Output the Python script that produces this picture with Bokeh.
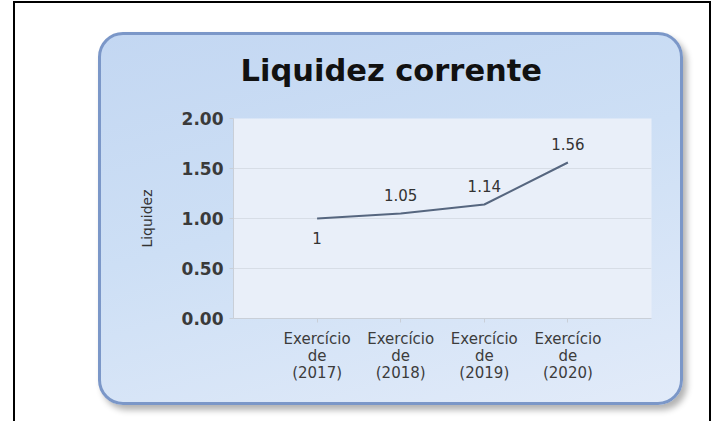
from bokeh.plotting import figure
from bokeh.models import (FactorRange, Range1d, FixedTicker, NumeralTickFormatter,
                          ColumnDataSource, InlineStyleSheet)
from bokeh.core.properties import value
from bokeh.embed import file_html
from bokeh.resources import INLINE

# ---- data ----
years = ["2017", "2018", "2019", "2020"]
x_tick_labels = ["Exercício\nde\n(%s)" % y for y in years]
liquidez = [1.00, 1.05, 1.14, 1.56]
value_labels = ["1", "1.05", "1.14", "1.56"]
y_ticks = [0.0, 0.5, 1.0, 1.5, 2.0]
chart_title = "Liquidez corrente"
y_title = "Liquidez"

# ---- layout (canvas pixels) ----
W, H = 713, 421
FL, FR, FT, FB = 233, 651, 118, 318          # plot frame
PL, PT, PR, PB, RAD = 98, 32, 683, 405, 25   # rounded panel
FONT = "DejaVu Sans"

p = figure(width=W, height=H,
           x_range=FactorRange(factors=x_tick_labels, range_padding=0.5,
                               range_padding_units="absolute"),
           y_range=Range1d(0, 2),
           output_backend="svg", toolbar_location=None,
           min_border_left=FL, min_border_right=W - FR,
           min_border_top=FT, min_border_bottom=H - FB)
p.border_fill_color = None
p.background_fill_color = "#e9eff9"
p.outline_line_color = None

css = """
:host { position: relative; }
:host::before {
  content: ""; position: absolute; z-index: -1;
  left: %dpx; top: %dpx; width: %dpx; height: %dpx;
  box-sizing: border-box;
  border: 3px solid #7b97c8; border-radius: %dpx;
  background: linear-gradient(165deg, #c3d7f2 0%%, #cddff5 45%%, #e2ebf9 100%%);
  box-shadow: 4px 5px 6px rgba(0,0,0,0.30);
}
:host::after {
  content: ""; position: absolute; pointer-events: none;
  left: 13px; top: 1px; width: 698px; height: %dpx;
  box-sizing: border-box;
  border-left: 2px solid #000; border-right: 2px solid #000; border-top: 2px solid #000;
}
""" % (PL, PT, PR - PL, PB - PT, RAD, H)
p.stylesheets = [InlineStyleSheet(css=css)]

# title
p.title.text = chart_title
p.title.align = "left"
p.title.offset = 7
p.title.standoff = 62
p.title.text_font = FONT
p.title.text_font_size = "30.5px"
p.title.text_font_style = "bold"
p.title.text_color = "#111111"

# data
src = ColumnDataSource(dict(
    cat=x_tick_labels, liq=liquidez, lbl=value_labels,
    off=[19 if i == 0 else -19 for i in range(len(years))]))
p.line(x="cat", y="liq", source=src, line_color="#56667f", line_width=2)
p.text(x="cat", y="liq", text="lbl", y_offset="off", source=src,
       text_align="center", text_baseline="middle", text_font=value(FONT),
       text_font_size="15px", text_color="#333333")

# axes
ax_col = "#c9cfd8"
p.yaxis.ticker = FixedTicker(ticks=y_ticks)
p.yaxis.formatter = NumeralTickFormatter(format="0.00")
p.yaxis.major_label_text_font = FONT
p.yaxis.major_label_text_font_size = "17px"
p.yaxis.major_label_text_font_style = "bold"
p.yaxis.major_label_text_color = "#3a3a3a"
p.yaxis.axis_line_color = ax_col
p.yaxis.major_tick_line_color = ax_col
p.yaxis.major_tick_out = 4
p.yaxis.major_tick_in = 0
p.yaxis.minor_tick_line_color = None
p.yaxis.major_label_standoff = 6
p.yaxis.axis_label = y_title
p.yaxis.axis_label_text_font = FONT
p.yaxis.axis_label_text_font_size = "14px"
p.yaxis.axis_label_text_font_style = "normal"
p.yaxis.axis_label_text_color = "#333333"
p.yaxis.axis_label_standoff = 24

p.xaxis.major_label_text_font = FONT
p.xaxis.major_label_text_font_size = "15px"
p.xaxis.major_label_text_line_height = 0.97
p.xaxis.major_label_text_color = "#3c3c3c"
p.xaxis.major_label_orientation = "horizontal"
p.xaxis.axis_line_color = ax_col
p.xaxis.major_tick_line_color = ax_col
p.xaxis.major_tick_out = 4
p.xaxis.major_tick_in = 0
p.xaxis.major_label_standoff = 7

p.xgrid.grid_line_color = None
p.ygrid.grid_line_color = "#d7dde6"
p.ygrid.grid_line_width = 1

open("out.html", "w").write(file_html(p, INLINE))
